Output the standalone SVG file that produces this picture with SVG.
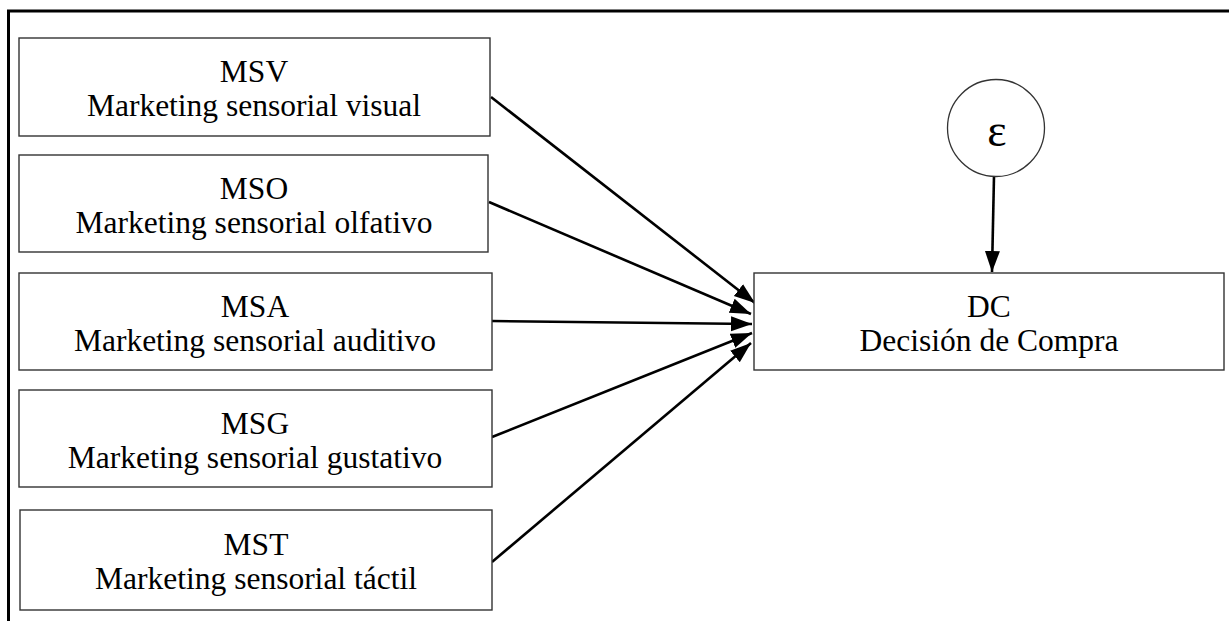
<svg xmlns="http://www.w3.org/2000/svg" width="1229" height="621" viewBox="0 0 1229 621">
  <style>
    .box { fill: #ffffff; stroke: #333333; stroke-width: 1.4; }
    .t { font-family: "Liberation Serif", "Times New Roman", serif; font-size: 31.5px; fill: #000000; text-anchor: middle; }
    .eps { font-family: "Liberation Serif", "Times New Roman", serif; font-size: 46px; fill: #000000; text-anchor: middle; }
    .conn { stroke: #000000; stroke-width: 2.6; fill: none; marker-end: url(#ah); }
    .frame { stroke: #000000; stroke-width: 3; fill: none; }
  </style>
  <defs>
    <marker id="ah" markerUnits="userSpaceOnUse" markerWidth="24" markerHeight="18" viewBox="0 0 24 18" refX="21" refY="9" orient="auto">
      <path d="M0,1.5 L21,9 L0,16.5 Z" fill="#000000"/>
    </marker>
  </defs>
  <rect width="1229" height="621" fill="#ffffff"/>
  <g id="frame">
    <line class="frame" x1="7" y1="11" x2="1229" y2="11"/>
    <line class="frame" x1="8.5" y1="10" x2="8.5" y2="621"/>
  </g>
  <g id="connectors">
    <line class="conn" x1="491" y1="97" x2="755" y2="303"/>
    <line class="conn" x1="489" y1="202" x2="751" y2="314"/>
    <line class="conn" x1="492" y1="321" x2="752" y2="324"/>
    <line class="conn" x1="492" y1="437" x2="752" y2="333"/>
    <line class="conn" x1="492" y1="562" x2="751" y2="343"/>
    <line class="conn" x1="994" y1="176" x2="992" y2="272"/>
  </g>
  <g id="msv">
    <rect class="box" x="19" y="38" width="471" height="98"/>
    <text class="t" x="254" y="82">MSV</text>
    <text class="t" x="254" y="116">Marketing sensorial visual</text>
  </g>
  <g id="mso">
    <rect class="box" x="19" y="155" width="469" height="97"/>
    <text class="t" x="254" y="199">MSO</text>
    <text class="t" x="254" y="233">Marketing sensorial olfativo</text>
  </g>
  <g id="msa">
    <rect class="box" x="19" y="273" width="473" height="97"/>
    <text class="t" x="255" y="317">MSA</text>
    <text class="t" x="255" y="351">Marketing sensorial auditivo</text>
  </g>
  <g id="msg">
    <rect class="box" x="19" y="390" width="473" height="97"/>
    <text class="t" x="255" y="434">MSG</text>
    <text class="t" x="255" y="468">Marketing sensorial gustativo</text>
  </g>
  <g id="mst">
    <rect class="box" x="20" y="510" width="472" height="100"/>
    <text class="t" x="256" y="555">MST</text>
    <text class="t" x="256" y="589">Marketing sensorial táctil</text>
  </g>
  <g id="dc">
    <rect class="box" x="754" y="273" width="470" height="97"/>
    <text class="t" x="989" y="317">DC</text>
    <text class="t" x="989" y="351">Decisión de Compra</text>
  </g>
  <g id="epsilon">
    <circle cx="996" cy="128" r="48.5" fill="#ffffff" stroke="#333333" stroke-width="1.3"/>
    <text class="eps" x="997" y="146">ε</text>
  </g>
</svg>
